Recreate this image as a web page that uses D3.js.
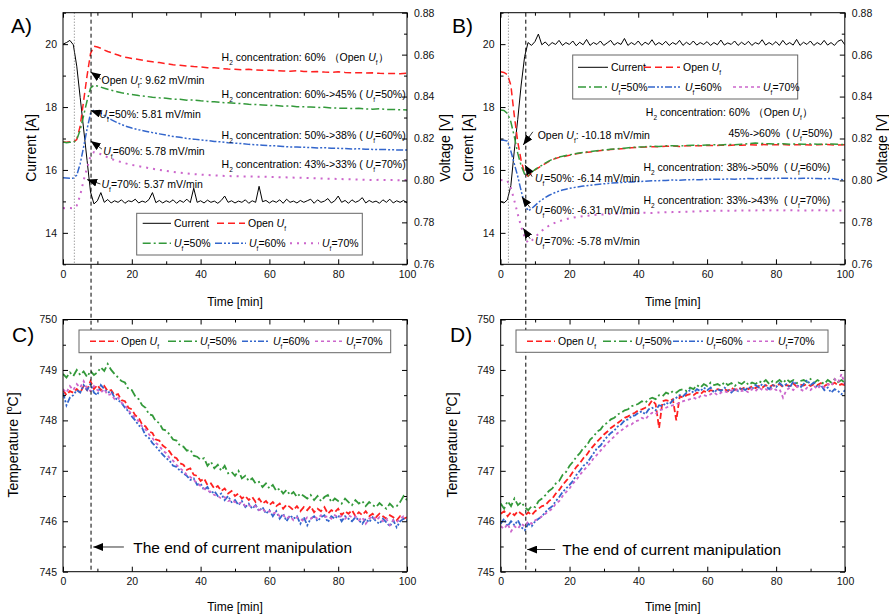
<!DOCTYPE html>
<html>
<head>
<meta charset="utf-8">
<script src="https://cdn.jsdelivr.net/npm/d3@7"></script>
<style>
  body { margin: 0; background: #fff; }
  svg { font-family: "Liberation Sans", Arial, sans-serif; }
  text { white-space: pre; }
</style>
</head>
<body>
<svg id="chart" width="889" height="615"></svg>
<script>
// ---- time grids ----
const minutes = d3.range(0, 101);                                   // 1-min samples
const minutesTop = d3.range(0, 21).concat(d3.range(22, 101, 2));    // voltage samples

// ---- A) voltage [V] after current drop 20 A -> 15 A ----
const voltOpenA = [0.8183, 0.8182, 0.8184, 0.8183, 0.8195, 0.8260, 0.8380, 0.8500, 0.8605, 0.8640, 0.8636, 0.8630, 0.8622, 0.8615, 0.8610, 0.8603, 0.8598, 0.8592, 0.8588, 0.8585, 0.8582,
  0.8577, 0.8570, 0.8566, 0.8562, 0.8557, 0.8552, 0.8549, 0.8546, 0.8543, 0.8541, 0.8538, 0.8537, 0.8534, 0.8531, 0.8530, 0.8528, 0.8530, 0.8527, 0.8525, 0.8526,
  0.8524, 0.8522, 0.8521, 0.8523, 0.8520, 0.8518, 0.8519, 0.8517, 0.8516, 0.8518, 0.8515, 0.8513, 0.8514, 0.8512, 0.8513, 0.8511, 0.8510, 0.8510, 0.8509, 0.8512];
const voltU50A = [0.8183, 0.8180, 0.8182, 0.8181, 0.8195, 0.8240, 0.8310, 0.8380, 0.8440, 0.8455, 0.8450, 0.8445, 0.8440, 0.8435, 0.8430, 0.8426, 0.8422, 0.8418, 0.8415, 0.8412, 0.8410,
  0.8405, 0.8401, 0.8397, 0.8394, 0.8392, 0.8388, 0.8387, 0.8383, 0.8384, 0.8380, 0.8377, 0.8375, 0.8372, 0.8370, 0.8368, 0.8366, 0.8363, 0.8362, 0.8360, 0.8358,
  0.8357, 0.8354, 0.8355, 0.8352, 0.8351, 0.8350, 0.8348, 0.8349, 0.8346, 0.8345, 0.8344, 0.8343, 0.8344, 0.8341, 0.8340, 0.8342, 0.8339, 0.8338, 0.8337, 0.8336];
const voltU60A = [0.8013, 0.8012, 0.8010, 0.8011, 0.8025, 0.8080, 0.8160, 0.8245, 0.8320, 0.8336, 0.8330, 0.8320, 0.8310, 0.8300, 0.8290, 0.8282, 0.8274, 0.8267, 0.8260, 0.8255, 0.8250,
  0.8242, 0.8235, 0.8228, 0.8222, 0.8216, 0.8210, 0.8206, 0.8200, 0.8197, 0.8193, 0.8190, 0.8186, 0.8184, 0.8180, 0.8178, 0.8176, 0.8172, 0.8170, 0.8168, 0.8166,
  0.8165, 0.8162, 0.8160, 0.8160, 0.8158, 0.8157, 0.8155, 0.8156, 0.8154, 0.8153, 0.8152, 0.8150, 0.8151, 0.8149, 0.8148, 0.8147, 0.8147, 0.8146, 0.8145, 0.8145];
const voltU70A = [0.7868, 0.7867, 0.7868, 0.7867, 0.7880, 0.7930, 0.8000, 0.8060, 0.8115, 0.8135, 0.8132, 0.8125, 0.8118, 0.8110, 0.8103, 0.8097, 0.8092, 0.8087, 0.8082, 0.8078, 0.8074,
  0.8068, 0.8062, 0.8056, 0.8050, 0.8045, 0.8041, 0.8037, 0.8034, 0.8030, 0.8028, 0.8026, 0.8024, 0.8022, 0.8021, 0.8020, 0.8019, 0.8019, 0.8018, 0.8018, 0.8017,
  0.8016, 0.8015, 0.8014, 0.8013, 0.8012, 0.8011, 0.8010, 0.8009, 0.8008, 0.8007, 0.8006, 0.8005, 0.8004, 0.8003, 0.8002, 0.8003, 0.8002, 0.8002, 0.8001, 0.8002];

// ---- B) voltage [V] after current rise 15 A -> 20 A ----
const voltOpenB = [0.8518, 0.8515, 0.8505, 0.8455, 0.8310, 0.8185, 0.8095, 0.8035, 0.8020, 0.8035, 0.8050, 0.8060, 0.8070, 0.8080, 0.8090, 0.8098, 0.8105, 0.8110, 0.8113, 0.8117, 0.8120,
  0.8127, 0.8132, 0.8136, 0.8140, 0.8144, 0.8147, 0.8150, 0.8152, 0.8156, 0.8158, 0.8159, 0.8161, 0.8160, 0.8163, 0.8164, 0.8162, 0.8165, 0.8166, 0.8165, 0.8167,
  0.8166, 0.8168, 0.8167, 0.8169, 0.8168, 0.8170, 0.8169, 0.8171, 0.8170, 0.8170, 0.8171, 0.8169, 0.8170, 0.8171, 0.8169, 0.8170, 0.8172, 0.8170, 0.8169, 0.8170];
const voltU50B = [0.8336, 0.8334, 0.8320, 0.8280, 0.8210, 0.8130, 0.8070, 0.8030, 0.8022, 0.8038, 0.8052, 0.8063, 0.8072, 0.8083, 0.8092, 0.8100, 0.8106, 0.8112, 0.8115, 0.8119, 0.8122,
  0.8128, 0.8134, 0.8137, 0.8142, 0.8145, 0.8149, 0.8151, 0.8154, 0.8157, 0.8160, 0.8161, 0.8163, 0.8162, 0.8165, 0.8166, 0.8164, 0.8167, 0.8168, 0.8167, 0.8169,
  0.8170, 0.8169, 0.8172, 0.8170, 0.8173, 0.8175, 0.8178, 0.8176, 0.8175, 0.8174, 0.8175, 0.8173, 0.8174, 0.8172, 0.8174, 0.8173, 0.8172, 0.8174, 0.8172, 0.8171];
const voltU60B = [0.8193, 0.8192, 0.8188, 0.8140, 0.8080, 0.8020, 0.7950, 0.7890, 0.7855, 0.7865, 0.7880, 0.7895, 0.7908, 0.7918, 0.7928, 0.7936, 0.7943, 0.7949, 0.7954, 0.7958, 0.7962,
  0.7968, 0.7973, 0.7977, 0.7981, 0.7984, 0.7987, 0.7989, 0.7991, 0.7993, 0.7995, 0.7996, 0.7998, 0.7999, 0.8000, 0.8002, 0.8001, 0.8003, 0.8004, 0.8003, 0.8005,
  0.8006, 0.8005, 0.8007, 0.8006, 0.8008, 0.8009, 0.8008, 0.8010, 0.8009, 0.8010, 0.8011, 0.8010, 0.8009, 0.8011, 0.8010, 0.8009, 0.8008, 0.8010, 0.8005, 0.8003];
const voltU70B = [0.8002, 0.8000, 0.7998, 0.7965, 0.7905, 0.7840, 0.7780, 0.7730, 0.7702, 0.7712, 0.7728, 0.7745, 0.7760, 0.7772, 0.7783, 0.7792, 0.7799, 0.7805, 0.7810, 0.7815, 0.7819,
  0.7825, 0.7830, 0.7833, 0.7836, 0.7838, 0.7840, 0.7841, 0.7842, 0.7843, 0.7844, 0.7846, 0.7845, 0.7847, 0.7848, 0.7849, 0.7850, 0.7851, 0.7852, 0.7853, 0.7854,
  0.7855, 0.7855, 0.7856, 0.7856, 0.7857, 0.7856, 0.7857, 0.7858, 0.7857, 0.7858, 0.7857, 0.7858, 0.7857, 0.7856, 0.7857, 0.7858, 0.7857, 0.7856, 0.7857, 0.7857];

// ---- current [A], 1-min samples ----
const currentA = [20.00, 20.05, 20.12, 19.98, 19.30, 18.30, 17.30, 16.30, 15.30, 14.92, 15.02, 15.28, 14.97, 15.06, 14.95, 15.02, 14.97, 15.05, 14.94, 15.02,
  14.99, 15.07, 14.95, 15.01, 14.97, 15.06, 15.28, 14.96, 15.03, 14.95, 15.02, 14.97, 15.05, 14.94, 15.03, 14.97, 15.07, 14.96, 15.42, 14.97,
  15.02, 14.95, 15.04, 14.97, 15.01, 14.94, 15.03, 15.17, 14.97, 15.02, 14.95, 15.01, 14.97, 15.05, 14.94, 15.02, 14.97, 15.48, 14.99, 15.03,
  14.95, 15.02, 14.97, 15.05, 14.94, 15.07, 14.97, 15.01, 14.95, 15.03, 14.97, 15.02, 15.07, 14.94, 15.05, 14.97, 15.01, 15.09, 14.95, 15.02,
  15.17, 14.97, 15.03, 14.94, 15.05, 14.97, 15.02, 15.12, 14.95, 15.03, 14.97, 15.01, 14.94, 15.05, 14.97, 15.07, 14.95, 15.02, 14.97, 15.03, 14.95];
const currentB = [15.00, 14.95, 15.05, 15.50, 16.60, 17.60, 18.70, 19.60, 20.05, 19.96, 20.08, 20.32, 19.98, 20.07, 19.95, 20.05, 19.99, 20.12, 19.96, 20.05,
  19.99, 20.10, 19.95, 20.06, 19.98, 20.15, 19.96, 20.05, 19.99, 20.10, 19.96, 20.04, 20.12, 19.97, 20.05, 19.99, 20.18, 19.96, 20.05, 19.98,
  20.10, 19.96, 20.06, 19.99, 20.14, 19.97, 20.05, 19.98, 20.09, 19.96, 20.05, 19.99, 20.12, 19.96, 20.06, 19.98, 20.10, 19.97, 20.05, 19.99,
  20.08, 19.96, 20.05, 19.98, 20.13, 19.97, 20.04, 19.99, 20.10, 19.96, 20.06, 19.98, 20.09, 19.96, 20.05, 20.00, 20.14, 19.97, 20.05, 19.98,
  20.08, 19.96, 20.12, 19.98, 20.05, 19.97, 20.15, 19.96, 20.06, 19.99, 20.10, 19.96, 20.05, 19.98, 20.12, 19.97, 20.05, 19.96, 20.09, 20.14, 19.98];

// ---- C) temperature [°C], 1-min samples ----
const tempOpenC = [748.60, 748.50, 748.58, 748.55, 748.62, 748.55, 748.68, 748.60, 748.78, 748.62, 748.70, 748.60, 748.68, 748.58, 748.60, 748.50, 748.52, 748.40, 748.38, 748.25,
  748.22, 748.10, 748.05, 747.92, 747.88, 747.78, 747.75, 747.62, 747.60, 747.50, 747.45, 747.38, 747.28, 747.25, 747.15, 747.12, 747.02, 747.05, 746.92, 746.90,
  746.80, 746.85, 746.72, 746.75, 746.65, 746.70, 746.60, 746.65, 746.55, 746.60, 746.50, 746.55, 746.45, 746.50, 746.42, 746.48, 746.38, 746.45, 746.35, 746.40,
  746.32, 746.38, 746.30, 746.35, 746.25, 746.33, 746.28, 746.22, 746.30, 746.20, 746.28, 746.22, 746.30, 746.18, 746.25, 746.20, 746.28, 746.15, 746.22, 746.18,
  746.25, 746.12, 746.20, 746.15, 746.22, 746.10, 746.18, 746.12, 746.20, 746.10, 746.15, 746.08, 746.15, 746.10, 746.05, 746.12, 746.08, 746.02, 746.10, 746.05, 746.08];
const tempU50C = [748.92, 748.85, 748.95, 748.88, 749.00, 748.90, 748.97, 748.86, 748.98, 748.90, 748.95, 749.05, 748.98, 749.12, 749.00, 748.92, 748.85, 748.78, 748.75, 748.62,
  748.60, 748.48, 748.42, 748.30, 748.25, 748.12, 748.10, 747.98, 747.95, 747.82, 747.80, 747.72, 747.62, 747.60, 747.50, 747.48, 747.40, 747.42, 747.30, 747.28,
  747.22, 747.25, 747.10, 747.18, 747.05, 747.12, 747.00, 747.10, 746.95, 746.98, 746.90, 747.00, 746.85, 746.90, 746.80, 746.85, 746.75, 746.78, 746.68, 746.75,
  746.65, 746.72, 746.60, 746.65, 746.55, 746.62, 746.52, 746.58, 746.48, 746.55, 746.50, 746.45, 746.52, 746.42, 746.50, 746.40, 746.48, 746.52, 746.38, 746.45,
  746.40, 746.35, 746.45, 746.38, 746.32, 746.42, 746.35, 746.40, 746.30, 746.38, 746.32, 746.28, 746.36, 746.30, 746.25, 746.35, 746.28, 746.30, 746.38, 746.50, 746.42];
const tempU60C = [748.55, 748.30, 748.45, 748.50, 748.60, 748.55, 748.70, 748.60, 748.72, 748.55, 748.50, 748.70, 748.62, 748.55, 748.58, 748.45, 748.40, 748.35, 748.25, 748.18,
  748.08, 748.00, 747.90, 747.85, 747.70, 747.65, 747.55, 747.48, 747.40, 747.32, 747.25, 747.20, 747.10, 747.08, 747.00, 746.95, 746.90, 746.82, 746.85, 746.72,
  746.75, 746.62, 746.68, 746.55, 746.60, 746.50, 746.55, 746.42, 746.50, 746.38, 746.42, 746.32, 746.40, 746.28, 746.35, 746.25, 746.32, 746.20, 746.28, 746.15,
  746.22, 746.10, 746.20, 746.05, 746.15, 746.00, 746.12, 746.05, 746.10, 745.95, 746.08, 745.92, 746.05, 746.10, 746.00, 746.08, 746.12, 745.98, 746.10, 746.05,
  746.12, 746.00, 746.10, 746.05, 746.00, 746.08, 746.02, 745.95, 746.05, 745.98, 746.08, 746.00, 745.95, 746.05, 745.98, 745.90, 746.02, 745.88, 746.00, 746.05, 746.02];
const tempU70C = [748.62, 748.55, 748.68, 748.60, 748.72, 748.65, 748.78, 748.62, 748.58, 748.68, 748.60, 748.55, 748.62, 748.50, 748.52, 748.42, 748.45, 748.35, 748.30, 748.20,
  748.12, 748.05, 747.98, 747.88, 747.82, 747.72, 747.65, 747.55, 747.50, 747.40, 747.35, 747.25, 747.20, 747.12, 747.05, 747.00, 746.92, 746.88, 746.82, 746.75,
  746.70, 746.65, 746.60, 746.58, 746.52, 746.50, 746.45, 746.48, 746.40, 746.42, 746.38, 746.35, 746.38, 746.30, 746.32, 746.28, 746.30, 746.22, 746.25, 746.18,
  746.20, 746.15, 746.18, 746.10, 746.12, 746.05, 746.10, 746.02, 746.08, 746.05, 746.00, 746.08, 746.05, 746.10, 746.05, 746.12, 746.08, 746.10, 746.05, 746.12,
  746.08, 746.10, 746.05, 746.12, 746.08, 746.10, 746.02, 746.08, 745.95, 746.05, 746.10, 746.02, 746.08, 746.00, 746.05, 745.92, 746.02, 745.98, 746.05, 746.10, 746.08];

// ---- D) temperature [°C], 1-min samples ----
const tempOpenD = [746.15, 746.20, 746.10, 746.18, 746.12, 746.20, 746.15, 746.10, 746.18, 746.12, 746.20, 746.25, 746.30, 746.32, 746.40, 746.45, 746.55, 746.62, 746.72, 746.80,
  746.88, 746.98, 747.08, 747.15, 747.25, 747.32, 747.42, 747.50, 747.58, 747.65, 747.72, 747.78, 747.85, 747.90, 747.95, 748.00, 748.05, 748.08, 748.12, 748.15,
  748.20, 748.22, 748.25, 748.30, 748.40, 748.32, 747.85, 748.38, 748.40, 748.38, 748.42, 748.00, 748.48, 748.45, 748.50, 748.52, 748.50, 748.55, 748.52, 748.58,
  748.55, 748.60, 748.58, 748.62, 748.60, 748.62, 748.58, 748.65, 748.60, 748.65, 748.62, 748.66, 748.62, 748.68, 748.64, 748.68, 748.65, 748.70, 748.66, 748.70,
  748.68, 748.72, 748.66, 748.70, 748.68, 748.73, 748.67, 748.71, 748.69, 748.72, 748.68, 748.72, 748.70, 748.74, 748.68, 748.72, 748.70, 748.75, 748.69, 748.72, 748.70];
const tempU50D = [746.35, 746.25, 746.40, 746.30, 746.45, 746.32, 746.38, 746.28, 746.22, 746.30, 746.28, 746.40, 746.45, 746.52, 746.60, 746.65, 746.75, 746.80, 746.92, 746.98,
  747.10, 747.18, 747.28, 747.35, 747.45, 747.50, 747.62, 747.68, 747.78, 747.82, 747.92, 747.95, 748.02, 748.05, 748.12, 748.15, 748.20, 748.22, 748.28, 748.30,
  748.33, 748.38, 748.35, 748.42, 748.45, 748.42, 748.50, 748.48, 748.55, 748.52, 748.58, 748.55, 748.60, 748.62, 748.58, 748.65, 748.62, 748.70, 748.65, 748.72,
  748.68, 748.75, 748.70, 748.72, 748.68, 748.76, 748.70, 748.74, 748.68, 748.75, 748.72, 748.78, 748.70, 748.75, 748.72, 748.78, 748.74, 748.80, 748.72, 748.78,
  748.75, 748.80, 748.74, 748.82, 748.76, 748.80, 748.74, 748.78, 748.80, 748.76, 748.82, 748.74, 748.80, 748.76, 748.72, 748.80, 748.75, 748.82, 748.76, 748.80, 748.74];
const tempU60D = [745.95, 746.05, 745.90, 746.00, 745.92, 746.02, 745.88, 745.82, 745.95, 745.90, 746.00, 746.05, 746.10, 746.18, 746.25, 746.30, 746.40, 746.48, 746.58, 746.65,
  746.72, 746.80, 746.92, 747.00, 747.10, 747.15, 747.25, 747.35, 747.45, 747.50, 747.60, 747.68, 747.75, 747.80, 747.88, 747.92, 748.00, 748.02, 748.08, 748.10,
  748.15, 748.18, 748.12, 748.22, 748.25, 748.20, 748.30, 748.28, 748.35, 748.32, 748.40, 748.45, 748.50, 748.48, 748.55, 748.60, 748.55, 748.62, 748.58, 748.65,
  748.60, 748.65, 748.55, 748.62, 748.58, 748.65, 748.60, 748.55, 748.62, 748.58, 748.65, 748.60, 748.66, 748.62, 748.70, 748.65, 748.72, 748.68, 748.62, 748.70,
  748.66, 748.74, 748.68, 748.72, 748.65, 748.78, 748.70, 748.65, 748.72, 748.80, 748.70, 748.75, 748.65, 748.70, 748.60, 748.65, 748.55, 748.62, 748.58, 748.52, 748.60];
const tempU70D = [745.90, 745.85, 745.95, 745.80, 745.90, 745.85, 745.95, 745.90, 746.00, 745.95, 746.02, 746.05, 746.10, 746.15, 746.20, 746.25, 746.35, 746.40, 746.50, 746.58,
  746.65, 746.75, 746.82, 746.92, 747.00, 747.08, 747.15, 747.25, 747.32, 747.40, 747.48, 747.55, 747.62, 747.68, 747.75, 747.80, 747.85, 747.90, 747.92, 747.98,
  748.00, 748.05, 748.02, 748.10, 748.15, 748.12, 748.20, 748.22, 748.25, 748.28, 748.30, 748.32, 748.35, 748.38, 748.40, 748.42, 748.45, 748.42, 748.48, 748.50,
  748.48, 748.52, 748.55, 748.50, 748.55, 748.58, 748.55, 748.60, 748.58, 748.62, 748.58, 748.60, 748.55, 748.62, 748.58, 748.65, 748.60, 748.62, 748.58, 748.65,
  748.60, 748.62, 748.45, 748.60, 748.65, 748.60, 748.68, 748.62, 748.58, 748.65, 748.60, 748.68, 748.62, 748.70, 748.65, 748.72, 748.68, 748.82, 748.75, 748.92, 748.70];

// ---- axis ticks ----
const timeTicks = [0, 20, 40, 60, 80, 100], timeMinor = [10, 30, 50, 70, 90];
const currentTicks = [14, 16, 18, 20], currentMinor = [13, 15, 17, 19, 21];
const voltTicks = [0.76, 0.78, 0.80, 0.82, 0.84, 0.86, 0.88], voltMinor = [0.77, 0.79, 0.81, 0.83, 0.85, 0.87];
const tempTicks = [745, 746, 747, 748, 749, 750], tempMinor = [745.5, 746.5, 747.5, 748.5, 749.5];

// ---- event times [min] ----
const startA = 3.3, endA = 8.15, startB = 2.3, endB = 7.35;

const COLORS = { current: '#000000', open: '#ff2020', u50: '#33993a', u60: '#3366cc', u70: '#cc66cc' };
const DASH = { current: null, open: '7,4', u50: '8,3,2,3', u60: '7,2,2,2,2,2', u70: '2,5' };
const DASH_T = { open: '6,3', u50: '8,3,2,3', u60: '6,2,2,2,2,2', u70: '3,3' };
const LABELS = { current: 'Current', open: 'Open *U*_{f}', u50: '*U*_{f}=50%', u60: '*U*_{f}=60%', u70: '*U*_{f}=70%' };

const svg = d3.select('#chart');
const defs = svg.append('defs');
defs.append('marker').attr('id', 'head')
  .attr('viewBox', '0 0 10 8').attr('refX', 10).attr('refY', 4)
  .attr('markerWidth', 10).attr('markerHeight', 8)
  .attr('markerUnits', 'userSpaceOnUse').attr('orient', 'auto')
  .append('path').attr('d', 'M0,0L10,4L0,8Z').attr('fill', '#000');

// text with *italic*, _{sub} and ^{sup} parts
function rich(sel, str, fs) {
  const parts = str.split(/(\*[^*]+\*|_\{[^}]*\}|\^\{[^}]*\})/).filter(s => s.length);
  let shift = 0;
  parts.forEach(s => {
    const t = sel.append('tspan');
    let target = 0, txt = s;
    if (s[0] === '*') { t.attr('font-style', 'italic'); txt = s.slice(1, -1); }
    else if (s.startsWith('_{')) { target = fs * 0.38; t.attr('font-size', fs * 0.62); txt = s.slice(2, -1); }
    else if (s.startsWith('^{')) { target = -fs * 0.42; t.attr('font-size', fs * 0.62); txt = s.slice(2, -1); }
    if (target !== shift) t.attr('dy', target - shift);
    shift = target;
    t.text(txt);
  });
}

function label(x, y, str, fs, opt = {}) {
  const t = svg.append('text')
    .attr('font-size', fs).attr('fill', '#000')
    .attr('text-anchor', opt.anchor || 'start');
  if (opt.rotate) t.attr('transform', `translate(${x},${y}) rotate(${opt.rotate})`).attr('dy', '0.35em');
  else t.attr('x', x).attr('y', y).attr('dy', opt.dy || '0.35em');
  rich(t, str, fs);
  return t;
}

function panel(id, box, yDomain, rDomain) {
  const x = d3.scaleLinear().domain([0, 100]).range([box.left, box.right]);
  const y = d3.scaleLinear().domain(yDomain).range([box.bottom, box.top]);
  const r = rDomain ? d3.scaleLinear().domain(rDomain).range([box.bottom, box.top]) : null;
  defs.append('clipPath').attr('id', 'clip' + id).append('rect')
    .attr('x', box.left).attr('y', box.top)
    .attr('width', box.right - box.left).attr('height', box.bottom - box.top);
  const plot = svg.append('g').attr('clip-path', `url(#clip${id})`);
  return { id, box, x, y, r, plot };
}

function series(p, scale, times, values, key, width, dashes) {
  p.plot.append('path').datum(values)
    .attr('d', d3.line().x((d, i) => p.x(times[i])).y(d => scale(d)))
    .attr('fill', 'none')
    .attr('stroke', COLORS[key])
    .attr('stroke-width', width)
    .attr('stroke-dasharray', dashes[key]);
}

function axes(p, leftTicks, leftMinor, leftFmt, rightScale, rightTicks, rightMinor, rightFmt) {
  const b = p.box;
  const g = svg.append('g');
  const add = (axis, tr, values, size, fmt, pad) => {
    const a = g.append('g').attr('transform', tr)
      .call(axis.tickValues(values).tickSize(size).tickPadding(pad).tickFormat(fmt || (() => '')));
    a.select('.domain').remove();
    a.attr('font-family', null).attr('font-size', 10.5);
    a.selectAll('text').attr('fill', '#111');
  };
  add(d3.axisBottom(p.x), `translate(0,${b.bottom})`, timeTicks, -5, d3.format('d'), 6);
  add(d3.axisBottom(p.x), `translate(0,${b.bottom})`, timeMinor, -3, null, 6);
  add(d3.axisTop(p.x), `translate(0,${b.top})`, timeTicks, -5, null, 6);
  add(d3.axisTop(p.x), `translate(0,${b.top})`, timeMinor, -3, null, 6);
  add(d3.axisLeft(p.y), `translate(${b.left},0)`, leftTicks, -5, leftFmt, 6);
  add(d3.axisLeft(p.y), `translate(${b.left},0)`, leftMinor, -3, null, 6);
  add(d3.axisRight(rightScale), `translate(${b.right},0)`, rightTicks, -5, rightFmt, 7);
  add(d3.axisRight(rightScale), `translate(${b.right},0)`, rightMinor, -3, null, 7);
  g.append('rect').attr('x', b.left).attr('y', b.top)
    .attr('width', b.right - b.left).attr('height', b.bottom - b.top)
    .attr('fill', 'none').attr('stroke', '#000').attr('stroke-width', 1);
}

function legend(rect, items, dashes, widths) {
  svg.append('rect').attr('x', rect[0]).attr('y', rect[1])
    .attr('width', rect[2] - rect[0]).attr('height', rect[3] - rect[1])
    .attr('fill', '#fff').attr('stroke', '#666').attr('stroke-width', 1);
  items.forEach(([key, x1, x2, y]) => {
    svg.append('line').attr('x1', x1).attr('x2', x2).attr('y1', y).attr('y2', y)
      .attr('stroke', COLORS[key]).attr('stroke-width', widths[key] || 1.5)
      .attr('stroke-dasharray', dashes[key]);
    label(x2 + 3, y, LABELS[key], 10.5);
  });
}

function arrow(p, scale, from, to) {
  svg.append('line')
    .attr('x1', p.x(from[0])).attr('y1', scale(from[1]))
    .attr('x2', p.x(to[0])).attr('y2', scale(to[1]))
    .attr('stroke', '#000').attr('stroke-width', 0.8)
    .attr('marker-end', 'url(#head)');
}

function eventLine(x, y1, y2, dash, color) {
  svg.append('line').attr('x1', x).attr('x2', x).attr('y1', y1).attr('y2', y2)
    .attr('stroke', color).attr('stroke-width', 1).attr('stroke-dasharray', dash);
}

// ---------- panels ----------
const A = panel('A', { left: 63, right: 407, top: 12.7, bottom: 264.3 }, [13, 21], [0.76, 0.88]);
const B = panel('B', { left: 500.5, right: 844.8, top: 12.7, bottom: 264.3 }, [13, 21], [0.76, 0.88]);
const C = panel('C', { left: 63, right: 407, top: 319.5, bottom: 571.7 }, [745, 750], null);
const D = panel('D', { left: 500.7, right: 845, top: 319.5, bottom: 571.7 }, [745, 750], null);

// A data
series(A, A.y, minutes, currentA, 'current', 1, DASH);
series(A, A.r, minutesTop, voltOpenA, 'open', 1.5, DASH);
series(A, A.r, minutesTop, voltU50A, 'u50', 1.5, DASH);
series(A, A.r, minutesTop, voltU60A, 'u60', 1.5, DASH);
series(A, A.r, minutesTop, voltU70A, 'u70', 2, DASH);
// B data
series(B, B.y, minutes, currentB, 'current', 1, DASH);
series(B, B.r, minutesTop, voltOpenB, 'open', 1.5, DASH);
series(B, B.r, minutesTop, voltU50B, 'u50', 1.5, DASH);
series(B, B.r, minutesTop, voltU60B, 'u60', 1.5, DASH);
series(B, B.r, minutesTop, voltU70B, 'u70', 2, DASH);
// C data
series(C, C.y, minutes, tempOpenC, 'open', 1.8, DASH_T);
series(C, C.y, minutes, tempU50C, 'u50', 1.8, DASH_T);
series(C, C.y, minutes, tempU60C, 'u60', 1.8, DASH_T);
series(C, C.y, minutes, tempU70C, 'u70', 1.8, DASH_T);
// D data
series(D, D.y, minutes, tempOpenD, 'open', 1.8, DASH_T);
series(D, D.y, minutes, tempU50D, 'u50', 1.8, DASH_T);
series(D, D.y, minutes, tempU60D, 'u60', 1.8, DASH_T);
series(D, D.y, minutes, tempU70D, 'u70', 1.8, DASH_T);

// event lines
eventLine(A.x(startA), A.box.top, A.box.bottom, '1,2', '#777');
eventLine(A.x(endA), A.box.top, C.box.bottom, '4,3', '#000');
eventLine(B.x(startB), B.box.top, B.box.bottom, '1,2', '#777');
eventLine(B.x(endB), B.box.top, D.box.bottom, '4,3', '#000');

// legends
legend([136.7, 213.3, 362.3, 255], [
  ['current', 142.7, 171, 223.3], ['open', 217, 245, 223.3],
  ['u50', 142.7, 171, 243.3], ['u60', 215, 246, 243.3], ['u70', 290, 319, 243.3]
], DASH, { current: 1, u70: 2 });
legend([572.7, 55, 797.7, 99], [
  ['current', 578, 608, 67.3], ['open', 644, 680, 67.3],
  ['u50', 578, 608, 87], ['u60', 648, 682, 87], ['u70', 733, 760, 87]
], Object.assign({}, DASH, { u70: '3,3' }), { current: 1 });
legend([79, 330, 390.7, 352.7], [
  ['open', 90, 118, 341.3], ['u50', 168, 197, 341.3], ['u60', 242, 270, 341.3], ['u70', 315, 343, 341.3]
], DASH_T, {});
legend([516, 330, 828, 352.3], [
  ['open', 527, 555, 341.2], ['u50', 603, 632, 341.2], ['u60', 673, 703, 341.2], ['u70', 747, 775, 341.2]
], DASH_T, {});

// A annotations (time [min], voltage [V])
const FS = 10.5;
label(A.x(46.1), A.r(0.8585), 'H_{2} concentration: 60% （Open *U*_{f}）', FS);
label(A.x(46.1), A.r(0.8411), 'H_{2} concentration: 60%->45% ( *U*_{f}=50%)', FS);
label(A.x(46.1), A.r(0.8213), 'H_{2} concentration: 50%->38% ( *U*_{f}=60%)', FS);
label(A.x(46.1), A.r(0.8077), 'H_{2} concentration: 43%->33% ( *U*_{f}=70%)', FS);
label(A.x(11.2), A.r(0.8479), 'Open *U*_{f}: 9.62 mV/min', FS);
label(A.x(10.6), A.r(0.8316), '*U*_{f}=50%: 5.81 mV/min', FS);
label(A.x(11.7), A.r(0.8139), '*U*_{f}=60%: 5.78 mV/min', FS);
label(A.x(11.2), A.r(0.7980), '*U*_{f}=70%: 5.37 mV/min', FS);
arrow(A, A.r, [11.0, 0.8484], [8.05, 0.8517]);
arrow(A, A.r, [10.2, 0.8322], [8.05, 0.8334]);
arrow(A, A.r, [11.3, 0.8150], [8.05, 0.8188]);
arrow(A, A.r, [10.9, 0.7983], [7.0, 0.8004]);

// B annotations
label(B.x(42.2), B.r(0.8323), 'H_{2} concentration: 60% （Open *U*_{f}）', FS);
label(B.x(66.2), B.r(0.8225), '45%->60%  ( *U*_{f}=50%)', FS);
label(B.x(41.5), B.r(0.8063), 'H_{2} concentration: 38%->50%  ( *U*_{f}=60%)', FS);
label(B.x(41.5), B.r(0.7903), 'H_{2} concentration: 33%->43%  ( *U*_{f}=70%)', FS);
label(B.x(10.8), B.r(0.8217), 'Open *U*_{f}: -10.18 mV/min', FS);
label(B.x(10.0), B.r(0.8010), '*U*_{f}=50%: -6.14 mV/min', FS);
label(B.x(10.0), B.r(0.7859), '*U*_{f}=60%: -6.31 mV/min', FS);
label(B.x(10.0), B.r(0.7708), '*U*_{f}=70%: -5.78 mV/min', FS);
arrow(B, B.r, [9.4, 0.8232], [6.6, 0.8169]);
arrow(B, B.r, [9.2, 0.8018], [7.1, 0.8074]);
arrow(B, B.r, [8.6, 0.7870], [6.2, 0.7922]);
arrow(B, B.r, [8.6, 0.7722], [6.6, 0.7772]);

// C / D annotations
label(C.x(20.4), C.y(745.48), 'The end of current manipulation', 15.5);
arrow(C, C.y, [17.7, 745.49], [8.8, 745.49]);
label(D.x(17.9), D.y(745.44), 'The end of current manipulation', 15.5);
arrow(D, D.y, [15.8, 745.44], [7.7, 745.44]);

// axes
axes(A, currentTicks, currentMinor, d3.format('d'), A.r, voltTicks, voltMinor, d3.format('.2f'));
axes(B, currentTicks, currentMinor, d3.format('d'), B.r, voltTicks, voltMinor, d3.format('.2f'));
axes(C, tempTicks, tempMinor, d3.format('d'), C.y, tempTicks, tempMinor, null);
axes(D, tempTicks, tempMinor, d3.format('d'), D.y, tempTicks, tempMinor, null);

// titles
label(11, 26, 'A)', 21);
label(452, 26, 'B)', 21);
label(12, 334.5, 'C)', 21);
label(450, 334.5, 'D)', 21);
label(235, 302, 'Time [min]', 12, { anchor: 'middle' });
label(672.7, 302, 'Time [min]', 12, { anchor: 'middle' });
label(235, 606.5, 'Time [min]', 12, { anchor: 'middle' });
label(672.7, 606.5, 'Time [min]', 12, { anchor: 'middle' });
label(31.5, 148, 'Current [A]', 14, { anchor: 'middle', rotate: -90 });
label(445, 148, 'Voltage [V]', 14, { anchor: 'middle', rotate: -90 });
label(468, 148, 'Current [A]', 14, { anchor: 'middle', rotate: -90 });
label(882, 148, 'Voltage [V]', 14, { anchor: 'middle', rotate: -90 });
label(13, 445, 'Temperature [^{o}C]', 14, { anchor: 'middle', rotate: -90 });
label(452, 445, 'Temperature [^{o}C]', 14, { anchor: 'middle', rotate: -90 });
</script>
</body>
</html>
